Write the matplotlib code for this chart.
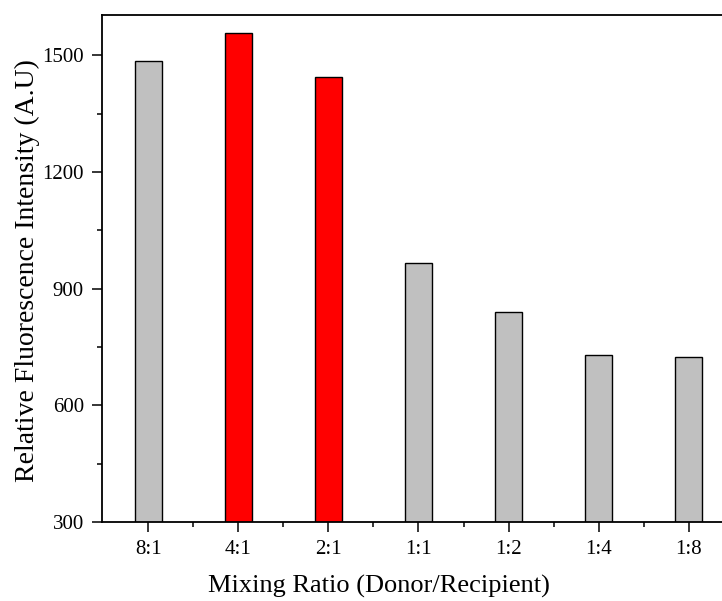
import matplotlib
matplotlib.use("Agg")
import matplotlib.pyplot as plt
from matplotlib.ticker import MultipleLocator, FixedLocator
import numpy as np

categories = ["8:1", "4:1", "2:1", "1:1", "1:2", "1:4", "1:8"]
values = [1484, 1557, 1443, 965, 841, 730, 723]
colors = ["#C0C0C0", "#FF0000", "#FF0000", "#C0C0C0", "#C0C0C0", "#C0C0C0", "#C0C0C0"]
yticks = [300, 600, 900, 1200, 1500]

plt.rcParams['font.family'] = ['Liberation Serif', 'DejaVu Serif']

fig = plt.figure(figsize=(7.22, 6.01), dpi=100)
ax = fig.add_axes([102/722, 79/601, (725.6-102)/722, (522-14.7)/601])

x = np.arange(len(categories))
ax.bar(x, values, width=0.30, color=colors, edgecolor="black", linewidth=1.0, zorder=2)

ax.set_xlim(-0.514, 6.41)
ax.set_ylim(300, 1604)
ax.set_xticks(x)
ax.set_xticklabels(categories)
ax.set_yticks(yticks)
ax.yaxis.set_minor_locator(MultipleLocator(150))
ax.xaxis.set_minor_locator(FixedLocator(x[:-1] + 0.5))

ax.tick_params(axis='both', which='major', direction='out', length=7, width=1.1,
               labelsize=15, pad=6)
ax.tick_params(axis='both', which='minor', direction='out', length=3.5, width=1.1)
ax.tick_params(top=False, right=False, which='both')
for s in ax.spines.values():
    s.set_linewidth(1.3)

ax.set_xlabel("Mixing Ratio (Donor/Recipient)", fontsize=19)
ax.set_ylabel("Relative Fluorescence Intensity (A.U)", fontsize=20)
ax.xaxis.set_label_coords(0.444, -0.104)
ax.yaxis.set_label_coords(-0.100, 0.496)

fig.savefig("out.png", dpi=100)
